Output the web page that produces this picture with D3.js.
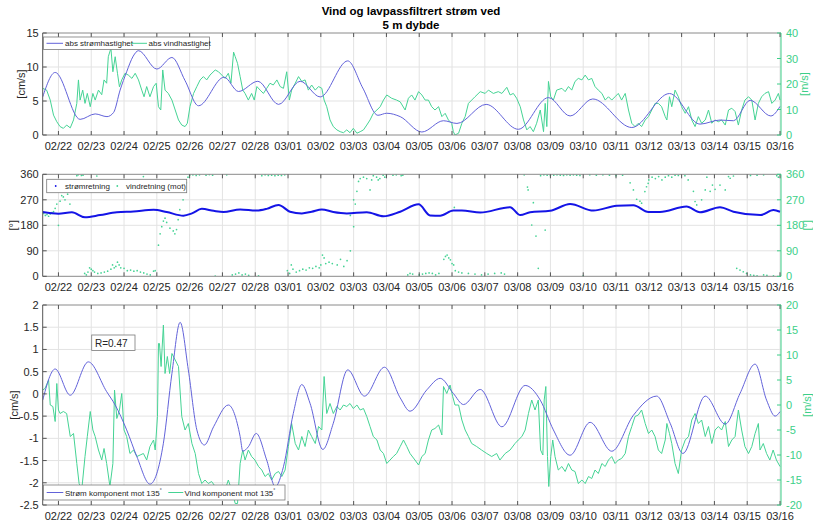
<!DOCTYPE html>
<html><head><meta charset="utf-8">
<script src="https://cdn.jsdelivr.net/npm/d3@7"></script>
<style>body{margin:0;background:#fff}svg{display:block;font-family:"Liberation Sans",Arial,Helvetica,sans-serif}</style>
</head><body><svg id="c" width="813" height="521"></svg>
<script>
// Times are in days after 22 Feb 2023 00:00 (UTC).
const titleLines = ["Vind og lavpassfiltrert strøm ved", "5 m dybde"];

// Panel 1: absolute current speed [cm/s] and wind speed [m/s]
const currentSpeed = [[-0.48,5.6],[-0.10,9.2],[0.66,2.3],[1.12,3.1],[1.48,2.7],[1.68,3.3],[1.88,6.6],[2.08,9.3],[2.28,11.6],[2.44,12.4],[3.0,9.7],[3.46,11.4],[3.86,8.0],[4.27,4.3],[5.05,8.5],[5.49,6.4],[6.08,7.9],[6.71,4.5],[7.37,7.9],[7.98,5.6],[8.82,10.9],[9.28,6.9],[9.74,2.9],[10.01,3.2],[10.42,2.7],[11.08,0.44],[11.74,2.1],[12.15,1.7],[13.04,4.5],[14.02,0.84],[14.94,5.5],[15.60,2.8],[16.29,5.3],[17.48,1.1],[18.63,6.1],[19.56,1.6],[20.17,2.2],[20.58,2.1],[21.09,5.1],[21.72,2.8],[22.0,4.2]];
const windSpeed = [[-0.48,18.3],[-0.36,17.6],[-0.25,13.7],[-0.15,7.8],[-0.05,5.2],[0.05,3.3],[0.15,2.6],[0.25,3.9],[0.36,2.8],[0.46,5.9],[0.56,12.4],[0.61,21.6],[0.66,13.7],[0.74,17.6],[0.81,12.4],[0.88,16.3],[0.97,11.1],[1.05,16.3],[1.12,13.7],[1.22,17.6],[1.32,15.8],[1.39,21.6],[1.47,20.3],[1.52,30.7],[1.60,34],[1.66,24.8],[1.73,30.7],[1.80,24.2],[1.86,18.9],[1.93,21.6],[2.03,24.2],[2.13,23.5],[2.24,22.2],[2.34,24.2],[2.44,21.6],[2.54,17.6],[2.61,15],[2.69,19],[2.79,15],[2.90,19],[2.98,20.3],[3.05,11.1],[3.12,9.8],[3.18,25.5],[3.25,17.6],[3.35,16.3],[3.46,13.7],[3.56,9.8],[3.66,5.9],[3.76,3.9],[3.86,3.3],[3.93,4.6],[4.01,11.1],[4.12,16.3],[4.22,19],[4.32,21.6],[4.42,22.9],[4.52,21.6],[4.62,23.5],[4.78,25.5],[4.88,24.8],[4.98,23.5],[5.08,22.2],[5.18,24.2],[5.26,20.3],[5.34,32.5],[5.39,30.7],[5.46,28.1],[5.54,22.9],[5.62,17.6],[5.69,16.3],[5.79,13.7],[5.89,16.3],[5.97,13.7],[6.05,19],[6.15,17.6],[6.25,16.3],[6.35,18.3],[6.45,20.3],[6.55,19.6],[6.66,21.6],[6.76,19],[6.86,18.3],[6.96,24.8],[7.04,13.7],[7.11,17.6],[7.22,20.3],[7.32,22.9],[7.42,21],[7.52,21.6],[7.62,17.6],[7.72,19.6],[7.83,17.6],[7.93,19],[8.03,18.3],[8.10,13.7],[8.18,11.1],[8.28,5.9],[8.38,3.3],[8.49,2],[8.59,1.3],[8.69,0.9],[8.79,2],[8.89,0.9],[8.99,2.6],[9.10,0.7],[9.20,1.3],[9.30,2],[9.40,3.9],[9.50,5.9],[9.60,8.5],[9.71,9.8],[9.81,11.1],[9.91,13.7],[10.01,15.7],[10.16,14.4],[10.31,13.7],[10.42,13],[10.57,9.8],[10.67,14.4],[10.77,15.7],[10.87,13.7],[10.98,17],[11.08,15.7],[11.18,13.7],[11.28,13.7],[11.38,11.1],[11.48,9.8],[11.59,11.1],[11.69,7.2],[11.79,8.5],[11.89,5.9],[11.99,4.6],[12.04,1.3],[12.09,0],[12.20,0.7],[12.30,4.6],[12.40,7.2],[12.50,12.4],[12.60,13.7],[12.70,15],[12.86,17],[13.01,16.3],[13.11,17.6],[13.26,16.3],[13.41,17],[13.52,16.3],[13.67,18.7],[13.77,15.7],[13.87,16.3],[13.97,14.4],[14.08,11.1],[14.18,5.9],[14.28,2],[14.38,3.3],[14.48,1.3],[14.58,4.6],[14.69,9.8],[14.79,1.3],[14.84,12.4],[14.89,3.3],[14.94,21],[15.01,15],[15.09,13.7],[15.19,17.6],[15.35,18.3],[15.45,17],[15.55,19],[15.65,17.6],[15.75,21],[15.85,22.2],[15.96,21.6],[16.06,23.5],[16.16,21.6],[16.26,22.2],[16.36,19],[16.46,17.6],[16.57,16.3],[16.67,13.7],[16.77,15],[16.87,13.7],[16.97,15],[17.07,16.3],[17.17,13.7],[17.28,16.3],[17.38,9.8],[17.48,4.6],[17.58,3.3],[17.68,4.6],[17.78,3.3],[17.89,5.9],[17.99,7.2],[18.09,9.8],[18.19,12.4],[18.29,12.4],[18.39,11.1],[18.50,7.2],[18.55,5.9],[18.63,15],[18.70,11.1],[18.80,17.6],[18.90,15],[19.00,11.1],[19.11,8.5],[19.21,11.1],[19.31,5.9],[19.41,3.3],[19.51,7.2],[19.61,4.6],[19.72,5.9],[19.82,9.8],[19.92,4.6],[20.02,5.9],[20.12,5.2],[20.22,5.9],[20.33,3.9],[20.43,9.8],[20.53,10.5],[20.63,9.2],[20.73,3.9],[20.83,9.8],[20.93,13.7],[21.04,15],[21.14,13.7],[21.24,5.9],[21.34,12.4],[21.44,15],[21.54,16.3],[21.65,17],[21.75,12.4],[21.85,13.7],[21.95,16.3],[22.0,13.7]];

// Panel 2: current direction and wind direction (towards) [deg]
const currentDir = [[-0.48,227],[0.0,221],[0.41,226],[0.81,208],[1.27,216],[1.78,226],[2.29,229],[2.90,235],[3.30,227],[3.81,214],[4.07,222],[4.37,238],[4.73,231],[5.03,227],[5.54,236],[6.05,232],[6.35,238],[6.71,252],[7.06,228],[7.42,222],[7.72,228],[8.03,236],[8.38,227],[8.79,222],[9.40,226],[9.91,212],[10.42,228],[10.98,254],[11.33,215],[11.64,214],[12.04,232],[12.30,232],[12.86,225],[13.77,244],[14.08,216],[14.38,226],[14.99,231],[15.60,255],[16.31,232],[17.02,249],[17.53,251],[17.99,227],[18.34,227],[19.15,246],[19.56,226],[20.17,244],[20.58,228],[21.40,216],[21.80,234],[22.0,228]];
const windDir = [[-0.45,222],[-0.4,215],[-0.35,218],[-0.3,212],[-0.25,220],[-0.2,225],[-0.15,228],[-0.1,240],[-0.05,255],[0.0,180],[0.05,265],[0.1,285],[0.15,280],[0.2,270],[0.28,290],[0.3,300],[0.35,255],[0.5,340],[0.56,355],[0.6,358],[0.7,356],[0.75,357],[0.8,10],[0.85,5],[0.9,15],[0.95,30],[1.0,25],[1.05,20],[1.1,15],[1.17,354],[1.2,10],[1.3,12],[1.4,15],[1.5,18],[1.6,25],[1.65,40],[1.7,30],[1.75,35],[1.8,50],[1.85,40],[1.9,30],[2.0,28],[2.1,20],[2.2,22],[2.3,18],[2.4,20],[2.5,15],[2.59,352],[2.6,12],[2.7,8],[2.8,5],[2.9,18],[2.95,20],[3.05,110],[3.1,150],[3.15,175],[3.2,195],[3.25,205],[3.3,190],[3.4,170],[3.5,160],[3.55,150],[3.6,165],[3.65,200],[3.7,235],[3.8,270],[3.85,300],[3.9,330],[3.95,350],[4.0,357],[4.1,358],[4.2,356],[4.3,358],[4.5,357],[4.6,359],[4.7,357],[4.78,1],[5.13,358],[5.3,5],[5.4,8],[5.5,12],[5.6,5],[5.7,8],[5.8,3],[6.1,2],[6.2,355],[6.3,358],[6.4,356],[6.5,357],[6.6,355],[6.7,357],[6.8,356],[6.9,358],[6.98,20],[7.05,10],[7.1,40],[7.15,25],[7.25,15],[7.35,20],[7.45,25],[7.55,22],[7.65,30],[7.75,28],[7.85,35],[7.95,30],[8.0,40],[8.05,75],[8.1,65],[8.15,45],[8.25,50],[8.35,45],[8.5,40],[8.6,60],[8.7,35],[8.8,55],[8.9,90],[8.9,215],[9.0,270],[9.05,255],[9.0,175],[9.1,300],[9.15,335],[9.2,345],[9.3,350],[9.4,345],[9.5,305],[9.55,340],[9.6,355],[9.7,350],[9.75,340],[9.8,345],[9.9,357],[9.95,350],[10.0,358],[10.2,357],[10.3,358],[10.45,355],[10.5,357],[10.65,5],[10.72,10],[10.8,8],[11.0,5],[11.1,8],[11.2,10],[11.3,12],[11.4,10],[11.5,5],[11.6,10],[11.75,60],[11.8,70],[11.85,75],[11.9,65],[11.95,58],[12.0,45],[12.05,40],[12.07,243],[12.1,20],[12.2,15],[12.3,12],[12.5,10],[12.7,8],[12.9,5],[13.1,8],[13.3,10],[13.5,12],[13.6,8],[14.2,358],[14.3,315],[14.32,305],[14.43,181],[14.48,260],[14.56,142],[14.63,28],[14.84,163],[14.7,355],[14.8,358],[14.9,357],[15.0,356],[15.1,357],[15.2,358],[15.3,357],[15.4,356],[15.5,358],[15.6,357],[15.7,358],[15.8,357],[15.9,356],[16.0,2],[16.2,358],[16.4,357],[16.6,358],[16.8,357],[17.0,355],[17.2,357],[17.43,330],[17.53,305],[17.63,272],[17.73,265],[17.78,258],[17.88,299],[17.93,316],[17.98,328],[18.0,340],[18.1,350],[18.2,345],[18.3,352],[18.4,340],[18.5,350],[18.6,355],[18.7,350],[18.8,357],[18.9,356],[19.1,355],[19.2,340],[19.36,300],[19.41,264],[19.46,252],[19.61,270],[19.72,305],[19.77,350],[19.87,300],[19.94,322],[20.02,307],[20.17,322],[20.33,305],[20.43,352],[20.48,346],[20.58,354],[20.68,28],[20.78,22],[20.88,16],[20.98,10],[21.1,5],[21.1,356],[21.2,3],[21.3,2],[21.3,357],[21.5,5],[21.5,358],[21.6,3],[21.8,2],[21.9,355],[21.95,350]];

// Panel 3: components towards 135 deg, current [cm/s] and wind [m/s]
const currentComp = [[-0.48,-0.14],[-0.10,0.56],[0.36,-0.03],[0.91,0.72],[1.47,0.05],[1.73,-0.25],[2.08,-0.81],[2.39,-1.41],[2.79,-2.03],[3.20,-1.11],[3.46,0.46],[3.71,1.61],[3.96,0.54],[4.22,-0.81],[4.45,-1.15],[4.73,-0.74],[5.18,-0.25],[5.54,-0.96],[5.62,-1.29],[5.79,-1.19],[6.03,-0.89],[6.35,-1.49],[6.61,-2.09],[6.86,-1.64],[7.16,-0.44],[7.42,0.21],[7.67,-0.21],[8.06,-1.25],[8.38,-0.66],[8.82,0.54],[9.33,-0.05],[9.94,0.6],[10.42,-0.09],[10.72,-0.39],[11.23,0.09],[11.64,0.35],[12.04,0.01],[12.35,-0.24],[12.86,0.1],[13.52,-0.74],[14.23,0.19],[14.69,-0.14],[15.09,-0.81],[15.60,-1.38],[16.21,-0.64],[16.87,-1.29],[17.53,-0.48],[18.24,-0.05],[18.65,-0.66],[19.04,-1.34],[19.72,-0.05],[20.33,-0.68],[20.78,0.01],[21.24,0.67],[21.59,-0.14],[21.85,-0.5],[22.0,-0.4]];
const windComp = [[-0.48,3.0],[-0.41,3.3],[-0.30,5],[-0.25,0],[-0.17,-0.3],[-0.10,-3.3],[-0.05,4.3],[0.0,-1],[0.05,-1.7],[0.15,-1.3],[0.25,-1.7],[0.36,-6.3],[0.46,-5.7],[0.56,-11.7],[0.63,-15.7],[0.71,-17],[0.81,-10.3],[0.88,-6.3],[0.97,-1.3],[1.05,-5],[1.12,-6.3],[1.22,-9],[1.32,-11],[1.39,-8.7],[1.47,-11.7],[1.57,-16.3],[1.66,-11.7],[1.71,3],[1.78,-2.7],[1.86,-1],[1.93,2.3],[2.00,-5],[2.08,-6.3],[2.18,-9.7],[2.29,-9],[2.39,-10.3],[2.49,-10],[2.59,-9.7],[2.69,-11],[2.79,-8.3],[2.90,-7],[2.95,-9],[3.02,-2.3],[3.05,12.3],[3.08,12.3],[3.13,7.7],[3.20,16],[3.25,6.3],[3.32,9.7],[3.39,6.3],[3.46,10.3],[3.56,9],[3.66,7.7],[3.76,-2.3],[3.86,-5],[3.96,-3.7],[4.07,-7.7],[4.17,-9.7],[4.27,-13.7],[4.37,-15.7],[4.47,-15],[4.57,-15.7],[4.67,-15.3],[4.78,-16.3],[4.88,-17],[4.98,-16],[5.08,-17],[5.18,-15],[5.28,-17],[5.39,-19.7],[5.46,-19.7],[5.54,-11.7],[5.62,-9],[5.69,-11],[5.79,-9],[5.89,-10.3],[5.99,-11],[6.10,-12.3],[6.20,-13],[6.30,-14.3],[6.40,-13.7],[6.50,-15],[6.61,-13.7],[6.71,-13.3],[6.81,-14.3],[6.91,-13],[7.01,-8.3],[7.11,-3.7],[7.22,-7.7],[7.32,-9],[7.42,-6.3],[7.52,-8.3],[7.62,-5],[7.72,-6.3],[7.83,-7.7],[7.93,-4.3],[8.03,-5],[8.10,5.7],[8.18,-1.7],[8.28,0.3],[8.38,-1.7],[8.49,-0.3],[8.59,-1],[8.69,0],[8.79,-0.3],[8.89,0.3],[8.99,-0.7],[9.10,0],[9.20,-1],[9.30,-0.7],[9.40,-2.3],[9.50,-4.3],[9.60,-6.3],[9.71,-7],[9.81,-9],[9.91,-9.7],[10.01,-11.7],[10.11,-11],[10.21,-10.3],[10.31,-9.7],[10.42,-8.3],[10.52,-7],[10.62,-8.3],[10.72,-9.7],[10.87,-11],[10.98,-12],[11.08,-10.3],[11.18,-9.7],[11.28,-7],[11.38,-5],[11.48,-4.7],[11.59,-4],[11.69,-6],[11.74,3.7],[11.84,2.3],[11.94,4],[12.02,1.7],[12.09,0],[12.20,0],[12.30,-3],[12.40,-5],[12.50,-6.3],[12.60,-7.7],[12.75,-8.3],[12.90,-9],[13.06,-9.7],[13.21,-10.3],[13.36,-9.7],[13.46,-11],[13.62,-9.7],[13.77,-9],[13.92,-7.7],[14.02,-7],[14.13,-6.3],[14.23,-5],[14.33,-1.7],[14.43,1],[14.53,-1],[14.63,1],[14.70,-9],[14.77,-10],[14.81,1],[14.86,3.7],[14.91,-10.3],[14.95,-16.3],[15.01,-10.3],[15.07,-7],[15.14,-10.3],[15.24,-13],[15.35,-12.3],[15.45,-13.3],[15.55,-11.7],[15.65,-13],[15.75,-13.3],[15.85,-15.7],[15.96,-15],[16.06,-15.7],[16.16,-14.3],[16.26,-14.7],[16.36,-13],[16.46,-13.7],[16.57,-11.7],[16.67,-12.3],[16.77,-11],[16.87,-10.3],[16.97,-11.7],[17.07,-11],[17.17,-10.7],[17.28,-9.7],[17.38,-6.3],[17.48,-4.3],[17.58,-2.3],[17.68,-2],[17.78,-1],[17.89,-3.7],[17.99,-5.7],[18.09,-5],[18.19,-6.3],[18.29,-9],[18.39,-9.7],[18.50,-7],[18.55,-3.7],[18.63,-5.7],[18.70,-7.7],[18.80,-11.7],[18.90,-13.7],[19.00,-9],[19.11,-7],[19.21,-6.3],[19.31,-3],[19.41,-1.7],[19.51,-3.7],[19.61,-3],[19.72,-6.3],[19.82,-4.3],[19.92,-7.7],[20.02,-5],[20.12,-4.3],[20.22,-5],[20.33,-3.3],[20.43,-8.3],[20.53,-7],[20.63,-6.3],[20.73,-1],[20.83,-5],[20.93,-8.3],[21.04,-9.7],[21.14,-8.3],[21.24,-5.7],[21.34,-3.7],[21.39,-9],[21.49,-7.7],[21.59,-9.7],[21.69,-11],[21.79,-9],[21.89,-11],[22.0,-12.3]];
const corrLabel = "R=0.47";

// Axis tick values
const speedTicks = [0,5,10,15];
const windSpeedTicks = [0,10,20,30,40];
const dirTicks = [0,90,180,270,360];
const compTicks = [-2.5,-2,-1.5,-1,-0.5,0,0.5,1,1.5,2];
const windCompTicks = [-20,-15,-10,-5,0,5,10,15,20];
const legend1 = ["abs strømhastighet","abs vindhastighet"];
const legend2 = ["strømretning","vindretning (mot)"];
const legend3 = ["Strøm komponent mot 135","Vind komponent mot 135"];

const GREEN = "#45d394", GREEN_AX = "#3ccf88", BLUE = "#6262d9", DIRBLUE = "#1414e6";
const TXT = "#262626", FRAME = "#8a8a8a", GRID = "#e3e3e3";

const svg = d3.select("#c");
const base = Date.UTC(2023,1,22);
const toDate = d => new Date(base + d*864e5);
const x = d3.scaleUtc().domain([toDate(-0.48), toDate(22.03)]).range([42.7, 781]);
const dayTicks = d3.range(0,23).map(toDate);
const fmt = d3.utcFormat("%m/%d");

// Title
svg.append("g").selectAll("text").data(titleLines).join("text")
  .attr("x", 411).attr("y", (d,i)=>15+i*13.5).attr("text-anchor","middle")
  .attr("font-size", 11.5).attr("font-weight","bold").attr("fill","#000").text(d=>d);

function panel(id, top, bottom, lDom, rDom, lTicks, rTicks, lLabel, rLabel, lLabelX) {
  const g = svg.append("g");
  const yL = d3.scaleLinear().domain(lDom).range([bottom, top]);
  const yR = d3.scaleLinear().domain(rDom).range([bottom, top]);
  const [x0, x1] = x.range();
  g.append("clipPath").attr("id", "clip"+id).append("rect")
    .attr("x", x0).attr("y", top).attr("width", x1-x0).attr("height", bottom-top);
  // grid
  g.append("g").selectAll("line").data(dayTicks).join("line")
    .attr("x1", d=>x(d)).attr("x2", d=>x(d)).attr("y1", top).attr("y2", bottom)
    .attr("stroke", GRID).attr("stroke-width", 1);
  g.append("g").selectAll("line").data(lTicks.filter(t=>t!==lDom[0]&&t!==lDom[1])).join("line")
    .attr("x1", x0).attr("x2", x1).attr("y1", d=>yL(d)).attr("y2", d=>yL(d))
    .attr("stroke", GRID).attr("stroke-width", 1);
  const plot = g.append("g").attr("clip-path", `url(#clip${id})`);
  const over = svg.append("g");
  // frame
  over.append("line").attr("x1",x0).attr("x2",x1).attr("y1",top).attr("y2",top).attr("stroke",FRAME);
  over.append("line").attr("x1",x0).attr("x2",x1).attr("y1",bottom).attr("y2",bottom).attr("stroke",FRAME);
  over.append("line").attr("x1",x0).attr("x2",x0).attr("y1",top).attr("y2",bottom).attr("stroke","#555");
  over.append("line").attr("x1",x1).attr("x2",x1).attr("y1",top).attr("y2",bottom).attr("stroke",GREEN_AX);
  // x ticks
  const xt = over.append("g");
  xt.selectAll(".b").data(dayTicks).join("line").attr("x1",d=>x(d)).attr("x2",d=>x(d))
    .attr("y1",bottom).attr("y2",bottom-4).attr("stroke","#555");
  xt.selectAll(".t").data(dayTicks).join("line").attr("x1",d=>x(d)).attr("x2",d=>x(d))
    .attr("y1",top).attr("y2",top+4).attr("stroke","#555");
  xt.selectAll("text").data(dayTicks).join("text").attr("x",d=>x(d)).attr("y",bottom+15)
    .attr("text-anchor","middle").attr("font-size",11).attr("fill",TXT).text(d=>fmt(d));
  // left y ticks
  const lt = over.append("g");
  lt.selectAll("line").data(lTicks).join("line").attr("x1",x0).attr("x2",x0+4)
    .attr("y1",d=>yL(d)).attr("y2",d=>yL(d)).attr("stroke","#555");
  lt.selectAll("text").data(lTicks).join("text").attr("x",x0-4).attr("y",d=>yL(d)+4)
    .attr("text-anchor","end").attr("font-size",11).attr("fill",TXT).text(d=>d);
  // right y ticks
  const rt = over.append("g");
  rt.selectAll("line").data(rTicks).join("line").attr("x1",x1-4).attr("x2",x1)
    .attr("y1",d=>yR(d)).attr("y2",d=>yR(d)).attr("stroke",GREEN_AX);
  rt.selectAll("text").data(rTicks).join("text").attr("x",x1+5).attr("y",d=>yR(d)+4)
    .attr("text-anchor","start").attr("font-size",11).attr("fill",GREEN_AX).text(d=>d);
  // axis labels
  const mid = (top+bottom)/2;
  over.append("text").attr("transform",`translate(${lLabelX},${mid}) rotate(-90)`)
    .attr("text-anchor","middle").attr("font-size",11).attr("fill",TXT).text(lLabel);
  over.append("text").attr("transform",`translate(${rLabel[1]},${mid}) rotate(-90)`)
    .attr("text-anchor","middle").attr("font-size",11).attr("fill",GREEN_AX).text(rLabel[0]);
  return {plot, over, yL, yR};
}

// ---- Panel 1
const p1 = panel(1, 33, 135, [0,15], [0,40], speedTicks, windSpeedTicks, "[cm/s]", ["[m/s]", 808], 25);
p1.plot.append("path").datum(windSpeed).attr("fill","none").attr("stroke",GREEN).attr("stroke-width",1)
  .attr("d", d3.line().x(d=>x(toDate(d[0]))).y(d=>p1.yR(d[1])));
p1.plot.append("path").datum(currentSpeed).attr("fill","none").attr("stroke",BLUE).attr("stroke-width",1)
  .attr("d", d3.line().curve(d3.curveMonotoneX).x(d=>x(toDate(d[0]))).y(d=>p1.yL(d[1])));

// ---- Panel 2
const p2 = panel(2, 174.3, 276.3, [0,360], [0,360], dirTicks, dirTicks, "[°]", ["[°]", 811], 17);
p2.plot.append("g").selectAll("circle").data(windDir).join("circle")
  .attr("cx", d=>x(toDate(d[0]))).attr("cy", d=>p2.yR(d[1])).attr("r", 0.85).attr("fill", GREEN);
p2.plot.append("path").datum(currentDir).attr("fill","none").attr("stroke",DIRBLUE).attr("stroke-width",2)
  .attr("d", d3.line().curve(d3.curveMonotoneX).x(d=>x(toDate(d[0]))).y(d=>p2.yL(d[1])));

// ---- Panel 3
const p3 = panel(3, 305, 505, [-2.5,2], [-20,20], compTicks, windCompTicks, "[cm/s]", ["[m/s]", 811], 18);
p3.plot.append("path").datum(windComp).attr("fill","none").attr("stroke",GREEN).attr("stroke-width",1)
  .attr("d", d3.line().x(d=>x(toDate(d[0]))).y(d=>p3.yR(d[1])));
p3.plot.append("path").datum(currentComp).attr("fill","none").attr("stroke",BLUE).attr("stroke-width",1)
  .attr("d", d3.line().curve(d3.curveMonotoneX).x(d=>x(toDate(d[0]))).y(d=>p3.yL(d[1])));

// ---- Legends
const LF = 8;
function legendBox(g, bx, by, bw, bh) {
  g.append("rect").attr("x",bx).attr("y",by).attr("width",bw).attr("height",bh)
    .attr("fill","#fff").attr("stroke","#7a7a7a").attr("stroke-width",0.8);
}
const lg1 = svg.append("g");
legendBox(lg1, 43.5, 37, 166, 12.5);
lg1.append("line").attr("x1",46.5).attr("x2",63).attr("y1",43.3).attr("y2",43.3).attr("stroke",BLUE);
lg1.append("text").attr("x",65).attr("y",46.2).attr("font-size",LF).attr("fill",TXT).text(legend1[0]);
lg1.append("line").attr("x1",131).attr("x2",147).attr("y1",43.3).attr("y2",43.3).attr("stroke",GREEN);
lg1.append("text").attr("x",148.5).attr("y",46.2).attr("font-size",LF).attr("fill",TXT).text(legend1[1]);

const lg2 = svg.append("g");
legendBox(lg2, 46.7, 179.3, 140, 13.4);
lg2.append("circle").attr("cx",55.7).attr("cy",186).attr("r",0.9).attr("fill",DIRBLUE);
lg2.append("text").attr("x",65).attr("y",189).attr("font-size",LF).attr("fill",TXT).text(legend2[0]);
lg2.append("circle").attr("cx",117.3).attr("cy",186).attr("r",0.9).attr("fill",GREEN);
lg2.append("text").attr("x",126).attr("y",189).attr("font-size",LF).attr("fill",TXT).text(legend2[1]);

const lg3 = svg.append("g");
legendBox(lg3, 43.5, 485, 241.5, 15);
lg3.append("line").attr("x1",46.7).attr("x2",63.3).attr("y1",492.5).attr("y2",492.5).attr("stroke",BLUE);
const t31 = lg3.append("text").attr("x",65).attr("y",495.5).attr("font-size",LF).attr("fill",TXT);
t31.append("tspan").text(legend3[0]);
t31.append("tspan").attr("dy",-4).attr("font-size",5).text("°");
lg3.append("line").attr("x1",168.3).attr("x2",183.3).attr("y1",492.5).attr("y2",492.5).attr("stroke",GREEN);
const t32 = lg3.append("text").attr("x",184.5).attr("y",495.5).attr("font-size",LF).attr("fill",TXT);
t32.append("tspan").text(legend3[1]);
t32.append("tspan").attr("dy",-4).attr("font-size",5).text("°");

// Correlation box
const rb = svg.append("g");
rb.append("rect").attr("x",91.7).attr("y",335).attr("width",43.3).attr("height",15.5)
  .attr("fill","#fff").attr("stroke","#7a7a7a").attr("stroke-width",0.8);
rb.append("text").attr("x",95).attr("y",346.5).attr("font-size",10).attr("fill",TXT).text(corrLabel);
</script></body></html>
